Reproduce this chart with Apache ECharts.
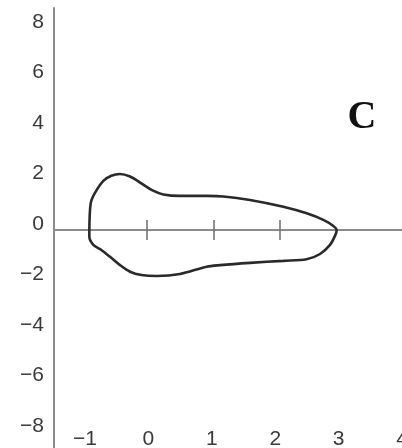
<!DOCTYPE html>
<html>
<head>
<meta charset="utf-8">
<script src="https://cdn.jsdelivr.net/npm/echarts@6/dist/echarts.min.js"></script>
<style>
  html, body { margin: 0; padding: 0; background: #fff; overflow: hidden; }
  #chart { width: 402px; height: 448px; }
</style>
</head>
<body>
<div id="chart"></div>
<script>
// outline of the loop, upper edge from the left end to the right tip
var topX = [-0.86, -0.84, -0.78, -0.65, -0.53, -0.40, -0.25, -0.08, 0.08, 0.25, 0.50, 0.90, 1.15, 1.55, 2.05, 2.40, 2.65, 2.80, 2.85];
var topY = [0.00, 1.05, 1.45, 1.95, 2.15, 2.22, 2.12, 1.85, 1.58, 1.41, 1.35, 1.35, 1.33, 1.19, 0.92, 0.66, 0.40, 0.16, 0.00];
// lower edge from the right tip back to the left end
var bottomX = [2.83, 2.75, 2.60, 2.40, 2.05, 1.55, 1.10, 0.90, 0.50, 0.15, -0.08, -0.25, -0.40, -0.55, -0.68, -0.80, -0.86, -0.86];
var bottomY = [-0.20, -0.59, -0.95, -1.16, -1.22, -1.30, -1.39, -1.45, -1.74, -1.82, -1.78, -1.65, -1.39, -1.06, -0.79, -0.59, -0.26, 0.00];

var tickValues = [0, 1, 2];
var xLabelValues = [-1, 0, 1, 2, 3, 4];

var loop = [];
topX.forEach(function (x, i) { loop.push([x, topY[i]]); });
bottomX.forEach(function (x, i) { loop.push([x, bottomY[i]]); });

function minus(v) {
    return String(v).replace('-', '\u2212');
}

var chartDom = document.getElementById('chart');
var myChart = echarts.init(chartDom, null, { width: 402, height: 448 });
var option;

option = {
    animation: false,
    backgroundColor: '#fff',
    grid: { left: 54, right: 0, top: 8, bottom: 0, containLabel: false, outerBoundsMode: 'none' },
    xAxis: [
        {
            type: 'value',
            min: -1.39,
            max: 3.83,
            axisLine: { show: true, onZero: true, onZeroAxisIndex: 0, lineStyle: { color: '#8c8c8c', width: 2 } },
            axisTick: { show: true, inside: false, length: 10, customValues: tickValues, lineStyle: { color: '#6e6e6e', width: 1.5 } },
            axisLabel: { show: false },
            splitLine: { show: false }
        },
        {
            type: 'value',
            position: 'bottom',
            min: -1.39,
            max: 3.83,
            axisLine: { show: false, onZero: true, onZeroAxisIndex: 1 },
            axisTick: { show: true, inside: true, length: 10, customValues: tickValues, lineStyle: { color: '#6e6e6e', width: 1.5 } },
            axisLabel: { show: false },
            splitLine: { show: false }
        },
        {
            type: 'value',
            position: 'bottom',
            min: -1.49,
            max: 4,
            offset: -23,
            axisLine: { show: false, onZero: false },
            axisTick: { show: false },
            splitLine: { show: false },
            axisLabel: {
                customValues: xLabelValues,
                margin: 4,
                fontSize: 21,
                fontFamily: 'Liberation Sans',
                color: '#3a3a3a',
                formatter: minus
            }
        }
    ],
    yAxis: [
        {
            type: 'value',
            position: 'left',
            min: -8.63,
            max: 8.79,
            splitNumber: 8,
            axisLine: { show: true, onZero: false, lineStyle: { color: '#8c8c8c', width: 2 } },
            axisTick: { show: false },
            splitLine: { show: false },
            axisLabel: {
                showMinLabel: false,
                showMaxLabel: false,
                margin: 10,
                verticalAlign: 'bottom',
                lineHeight: 12,
                fontSize: 21,
                fontFamily: 'Liberation Sans',
                color: '#3a3a3a',
                formatter: minus
            }
        },
        {
            type: 'value',
            position: 'right',
            min: -8.63,
            max: 8.79,
            axisLine: { show: false, onZero: false },
            axisTick: { show: false },
            axisLabel: { show: false },
            splitLine: { show: false }
        }
    ],
    graphic: [
        {
            type: 'text',
            x: 362,
            y: 118,
            style: {
                text: 'C',
                font: 'bold 40px "Liberation Serif"',
                fill: '#111',
                textAlign: 'center',
                textVerticalAlign: 'middle'
            }
        }
    ],
    series: [
        {
            type: 'line',
            xAxisIndex: 0,
            yAxisIndex: 0,
            data: loop,
            smooth: 0.3,
            symbol: 'none',
            lineStyle: { color: '#2a2a2a', width: 2.6 }
        }
    ]
};

option && myChart.setOption(option);
</script>
</body>
</html>
